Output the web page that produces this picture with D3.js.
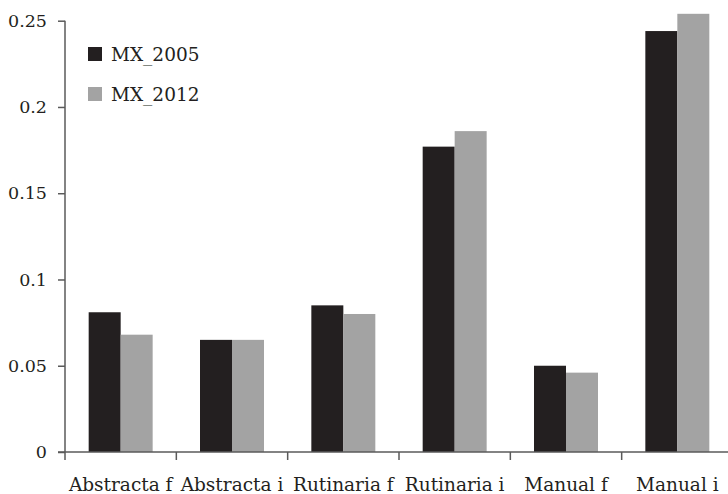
<!DOCTYPE html>
<html>
<head>
<meta charset="utf-8">
<script src="https://cdn.jsdelivr.net/npm/d3@7/dist/d3.min.js"></script>
<style>
  html, body { margin: 0; padding: 0; background: #ffffff; }
  svg { display: block; }
  text { font-family: "DejaVu Serif", serif; fill: #231f20; }
</style>
</head>
<body>
<svg id="chart" width="728" height="494"></svg>
<script>
// Task-type shares by occupation category, Mexico 2005 vs 2012
const categories = ["Abstracta f", "Abstracta i", "Rutinaria f", "Rutinaria i", "Manual f", "Manual i"];
const seriesNames = ["MX_2005", "MX_2012"];
const mx2005 = [0.081, 0.065, 0.085, 0.177, 0.050, 0.244];
const mx2012 = [0.068, 0.065, 0.080, 0.186, 0.046, 0.254];
const yTicks = [0, 0.05, 0.1, 0.15, 0.2, 0.25];
const yTickLabels = ["0", "0.05", "0.1", "0.15", "0.2", "0.25"];

const colors = { MX_2005: "#231f20", MX_2012: "#a3a3a3" };
const axisColor = "#5a5a5a";
const labelSize = 18.5;
const tickSize = 17.5;

const svg = d3.select("#chart");
const plotLeft = 65, plotRight = 733, plotTop = 20.7, plotBottom = 452;

const x0 = d3.scaleBand().domain(categories).range([plotLeft, plotRight]).paddingInner(0).paddingOuter(0);
const x1 = d3.scaleBand().domain(seriesNames).range([0, x0.bandwidth()]).paddingInner(0).paddingOuter(0.74);
const y = d3.scaleLinear().domain([0, 0.25]).range([plotBottom, plotTop]);

const rows = categories.map((c, i) => ({ category: c, values: [
  { key: "MX_2005", value: mx2005[i] },
  { key: "MX_2012", value: mx2012[i] }
]}));

// bars
const groups = svg.append("g").selectAll("g").data(rows).join("g")
  .attr("transform", d => `translate(${x0(d.category)},0)`);
groups.selectAll("rect").data(d => d.values).join("rect")
  .attr("x", d => x1(d.key))
  .attr("width", x1.bandwidth())
  .attr("y", d => y(d.value))
  .attr("height", d => y(0) - y(d.value))
  .attr("fill", d => colors[d.key]);

// y axis
const yAxis = d3.axisLeft(y).tickValues(yTicks)
  .tickFormat((d, i) => yTickLabels[i]).tickSize(7).tickPadding(11);
const yg = svg.append("g").attr("transform", `translate(${plotLeft},0)`).call(yAxis);
yg.select(".domain").attr("stroke", axisColor).attr("stroke-width", 1.5)
  .attr("d", `M0,${plotTop}V${plotBottom}`);
yg.selectAll(".tick line").attr("stroke", axisColor).attr("stroke-width", 1.5);
yg.selectAll(".tick text").attr("font-size", tickSize).attr("font-family", "DejaVu Serif").attr("fill", "#231f20");

// x axis: ticks at category boundaries
const boundaries = categories.map(c => x0(c));
const xg = svg.append("g").attr("transform", `translate(0,${plotBottom})`);
xg.append("line").attr("x1", plotLeft - 7).attr("x2", plotRight).attr("y1", 0).attr("y2", 0)
  .attr("stroke", axisColor).attr("stroke-width", 1.5);
xg.selectAll("line.tk").data(boundaries).join("line").attr("class", "tk")
  .attr("x1", d => d).attr("x2", d => d).attr("y1", 0).attr("y2", 8)
  .attr("stroke", axisColor).attr("stroke-width", 1.5);
xg.selectAll("text").data(categories).join("text")
  .attr("x", d => x0(d) + x0.bandwidth() / 2)
  .attr("y", 38.5)
  .attr("text-anchor", "middle")
  .attr("font-size", labelSize)
  .text(d => d);

// legend
const legend = svg.append("g").attr("transform", "translate(88,47)");
seriesNames.forEach((s, i) => {
  const g = legend.append("g").attr("transform", `translate(0,${i * 40})`);
  g.append("rect").attr("width", 14).attr("height", 14).attr("fill", colors[s]);
  g.append("text").attr("x", 23).attr("y", 14).attr("font-size", labelSize).text(s);
});
</script>
</body>
</html>
